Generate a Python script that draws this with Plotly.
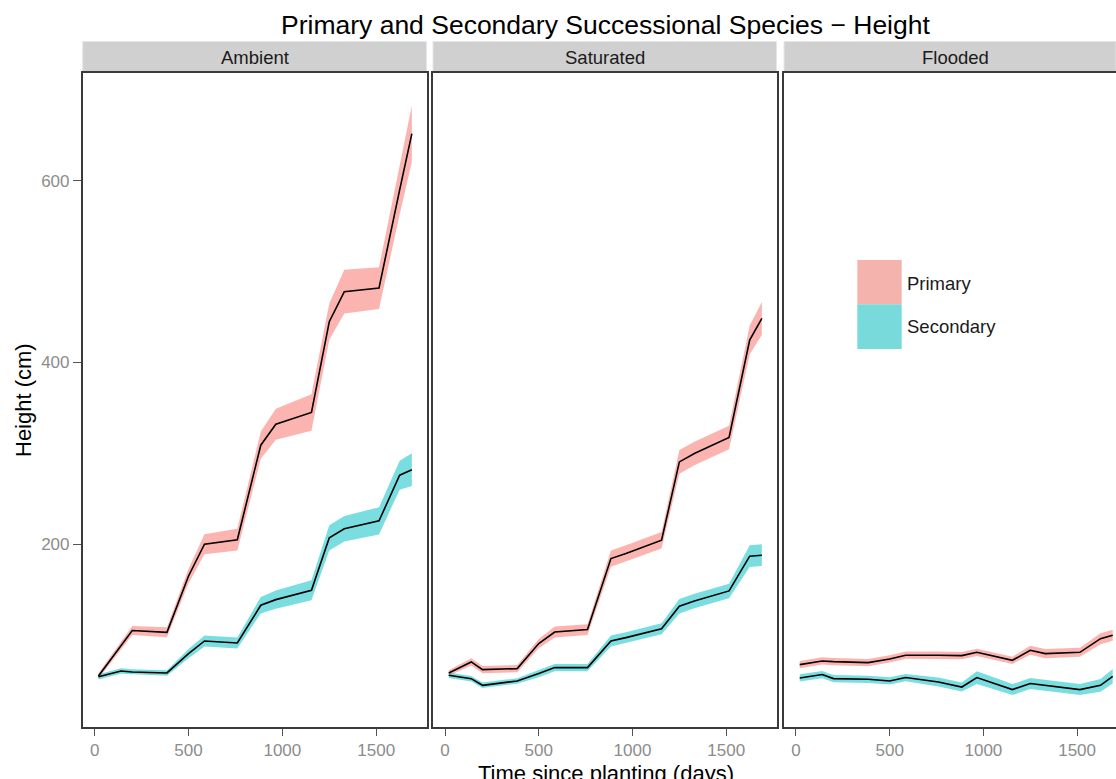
import plotly.graph_objects as go

# ---------------- data ----------------
days = [20, 140, 200, 385, 500, 585, 760, 885, 965, 1155, 1250, 1330, 1515, 1625, 1690]
panels = ["Ambient", "Saturated", "Flooded"]
series = ["Primary", "Secondary"]

ambient_primary = [55, 88, 105, 103, 165, 200, 205, 309, 332, 345, 445, 478, 482, 590, 652]
ambient_primary_se = [3, 4, 5, 5.5, 8, 11, 12, 15, 17, 20, 20, 24, 23, 27, 31]
ambient_secondary = [54, 60.5, 59.4, 58.3, 79.6, 93.5, 91.3, 132.8, 139, 149.3, 207, 217, 225.7, 276, 282]
ambient_secondary_se = [3, 3, 3, 3, 5, 6, 6, 9, 10, 11, 14, 14, 15, 16, 18]

saturated_primary = [58.3, 70.4, 62, 63.1, 90.6, 103.4, 106, 184.2, 189.8, 204.4, 290.6, 299.9, 317.5, 424.7, 448.6]
saturated_primary_se = [3, 4, 4, 4, 5, 6, 6, 9, 9, 9, 13, 13, 13, 16, 18]
saturated_secondary = [55.7, 52, 44.7, 49.5, 57.6, 64.2, 64.2, 93.5, 97.2, 107, 131.7, 137.6, 148.6, 186.8, 187.9]
saturated_secondary_se = [3, 3, 3, 3, 4, 4, 4, 6, 6, 6, 8, 8, 8, 12, 12]

flooded_primary = [67.5, 71.5, 70.8, 69.7, 73.7, 77.8, 77.8, 77.4, 81, 72.2, 83.3, 79.6, 81, 96, 99.8]
flooded_primary_se = [4, 4, 4, 4, 4, 4, 4, 4, 4, 4, 5, 5, 5, 6, 6]
flooded_secondary = [52.8, 56.5, 52.1, 51.3, 49.5, 53.2, 48.4, 42.8, 53.2, 40, 46.6, 44.7, 40, 44.7, 54.6]
flooded_secondary_se = [4, 4, 4, 4, 4, 4, 5, 5, 7, 6, 6, 6, 6, 7, 8]

x_ticks = [0, 500, 1000, 1500]
y_ticks = [200, 400, 600]

# ---------------- styling ----------------
W, H = 1116, 779
fill_colors = {"Primary": "rgba(248,118,109,0.55)", "Secondary": "rgba(0,191,196,0.52)"}
key_colors = {"Primary": "#F5B3AE", "Secondary": "#78DADB"}
FONT = "Liberation Sans, Arial, sans-serif"
TICK_COLOR = "#8C8C8C"
BORDER = "#3A3A3A"

def px_x(p):
    return p / W

def px_y(p):
    return 1 - p / H

panel_top, panel_bot = 73, 727
strip_top = 41.5
panel_px = [(82.7, 426.5), (433, 776.5), (784, 1116)]
x_ranges = [[-64, 1768], [-64, 1768], [-64, 1707.6]]
y_range = [-1.2, 718.7]

data = {
    "Ambient": [(ambient_primary, ambient_primary_se), (ambient_secondary, ambient_secondary_se)],
    "Saturated": [(saturated_primary, saturated_primary_se), (saturated_secondary, saturated_secondary_se)],
    "Flooded": [(flooded_primary, flooded_primary_se), (flooded_secondary, flooded_secondary_se)],
}

fig = go.Figure()

for i, pname in enumerate(panels):
    xa = "x" if i == 0 else f"x{i+1}"
    ya = "y" if i == 0 else f"y{i+1}"
    for sname, (mean, se) in zip(series, data[pname]):
        upper = [m + s for m, s in zip(mean, se)]
        lower = [m - s for m, s in zip(mean, se)]
        fig.add_trace(go.Scatter(
            x=days + days[::-1], y=upper + lower[::-1],
            fill="toself", fillcolor=fill_colors[sname], line=dict(width=0),
            mode="lines", hoverinfo="skip", showlegend=False, xaxis=xa, yaxis=ya,
        ))
    for sname, (mean, se) in zip(series, data[pname]):
        fig.add_trace(go.Scatter(
            x=days, y=mean, mode="lines", line=dict(color="black", width=1.6),
            name=sname, showlegend=False, xaxis=xa, yaxis=ya,
        ))

layout = dict(
    width=W, height=H,
    margin=dict(l=0, r=0, t=0, b=0),
    paper_bgcolor="white", plot_bgcolor="white",
    font=dict(family=FONT),
    showlegend=False,
)

for i in range(3):
    xk = "xaxis" if i == 0 else f"xaxis{i+1}"
    yk = "yaxis" if i == 0 else f"yaxis{i+1}"
    l, r = panel_px[i]
    layout[xk] = dict(
        domain=[px_x(l), px_x(r)], range=x_ranges[i], anchor="y" if i == 0 else f"y{i+1}",
        tickvals=x_ticks, ticks="outside", ticklen=7, tickcolor="#555555", tickwidth=1,
        tickfont=dict(size=17, color=TICK_COLOR, family=FONT),
        showgrid=False, zeroline=False, showline=True, linecolor=BORDER, linewidth=1.6,
        mirror=True,
    )
    layout[yk] = dict(
        domain=[px_y(panel_bot), px_y(panel_top)], range=y_range,
        anchor="x" if i == 0 else f"x{i+1}",
        tickvals=y_ticks, ticks="outside" if i == 0 else "", ticklen=8, tickcolor="#555555",
        showticklabels=(i == 0),
        tickfont=dict(size=17, color=TICK_COLOR, family=FONT),
        showgrid=False, zeroline=False, showline=True, linecolor=BORDER, linewidth=1.6,
        mirror=(i < 2),
    )

fig.update_layout(**layout)

shapes = []
annotations = []
# strips
for i, pname in enumerate(panels):
    l, r = panel_px[i]
    shapes.append(dict(type="rect", xref="paper", yref="paper",
                       x0=px_x(l), x1=px_x(r), y0=px_y(panel_top - 0.5), y1=px_y(strip_top),
                       fillcolor="#D0D0D0", line=dict(color="#E6E6E6", width=1), layer="below"))
    cx = (l + r) / 2 if i < 2 else (l + 1127) / 2
    annotations.append(dict(text=pname, xref="paper", yref="paper", x=px_x(cx), y=px_y(57.5),
                            xanchor="center", yanchor="middle", showarrow=False,
                            font=dict(size=18.5, color="#1A1A1A", family=FONT)))

# legend keys (manual, inside flooded panel)
key_l, key_r = 857.3, 901.7
key_rows = [(260, 304.3, 283.5), (304.3, 349, 326.5)]
for sname, (t, b, ty) in zip(series, key_rows):
    shapes.append(dict(type="rect", xref="paper", yref="paper",
                       x0=px_x(key_l), x1=px_x(key_r), y0=px_y(b), y1=px_y(t),
                       fillcolor=key_colors[sname], line=dict(width=0)))
    annotations.append(dict(text=sname, xref="paper", yref="paper", x=px_x(905), y=px_y(ty),
                            xanchor="left", yanchor="middle", showarrow=False,
                            font=dict(size=18.5, color="#1A1A1A", family=FONT)))

# titles
annotations.append(dict(text="Primary and Secondary Successional Species \u2212 Height",
                        xref="paper", yref="paper", x=px_x(605), y=px_y(25),
                        xanchor="center", yanchor="middle", showarrow=False,
                        font=dict(size=26.5, color="black", family=FONT)))
annotations.append(dict(text="Height (cm)", xref="paper", yref="paper", x=px_x(23), y=px_y(400),
                        xanchor="center", yanchor="middle", textangle=-90, showarrow=False,
                        font=dict(size=22, color="black", family=FONT)))
annotations.append(dict(text="Time since planting (days)", xref="paper", yref="paper",
                        x=px_x(606), y=px_y(773), xanchor="center", yanchor="middle", showarrow=False,
                        font=dict(size=22, color="black", family=FONT)))

fig.update_layout(shapes=shapes, annotations=annotations)
fig.write_html("out.html", config={"displayModeBar": False},
               post_script="document.body.style.margin='0';document.body.style.overflow='hidden';")
